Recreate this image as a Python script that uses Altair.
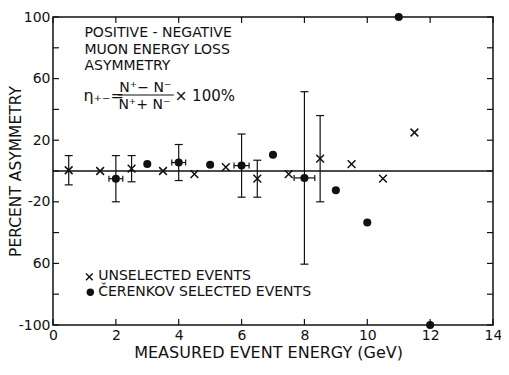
import altair as alt
import pandas as pd

# ---- data ----
# unselected events (crosses)
unsel_energy = [0.5, 1.5, 2.5, 3.5, 4.5, 5.5, 6.5, 7.5, 8.5, 9.5, 10.5, 11.5]
unsel_asym = [0.5, 0, 1.5, 0, -2, 2.5, -5, -2, 8, 4.5, -5, 25]
unsel_err = [9.5, 0, 8.5, 0, 0, 0, 12, 0, 28, 0, 0, 0]

# Cerenkov selected events (dots)
cer_energy = [2, 3, 4, 5, 6, 7, 8, 9, 10, 11, 12]
cer_asym = [-5, 4.5, 5.5, 4, 3.5, 10.5, -4.5, -12.5, -33.5, 100, -100]
cer_yerr = [15, 0, 11.7, 0, 20.5, 0, 56, 0, 0, 0, 0]
cer_xerr = [0.22, 0, 0.22, 0, 0.24, 0, 0.33, 0, 0, 0, 0]

x_tick_values = [0, 2, 4, 6, 8, 10, 12, 14]
y_tick_values = [-100, -80, -60, -40, -20, 0, 20, 40, 60, 80, 100]
y_tick_labels = ["-100", "", "60", "", "-20", "", "20", "", "60", "", "100"]

title_lines = ["POSITIVE - NEGATIVE", "MUON ENERGY LOSS", "ASYMMETRY"]
legend_labels = ["UNSELECTED EVENTS", "ČERENKOV SELECTED EVENTS"]

W, H = 440, 308
FONT = "DejaVu Sans"
INK = "#111111"


def px(xr):
    """reference-image x -> plot pixel x"""
    return (xr - 53) * W / 448


def py(yr):
    """reference-image y -> plot pixel y"""
    return (yr - 17) * H / 320


xs = alt.Scale(domain=[0, 14], nice=False, zero=False)
ys = alt.Scale(domain=[-100, 100], nice=False, zero=False)

label_expr = " : ".join(
    f"datum.value == {v} ? '{l}'" for v, l in zip(y_tick_values, y_tick_labels)
) + " : ''"

AXX = alt.Axis(
    values=x_tick_values, ticks=False, domain=False, grid=False,
    title="MEASURED EVENT ENERGY (GeV)", labelFont=FONT, labelFontSize=14,
    labelColor=INK, labelPadding=3, titleFont=FONT, titleFontSize=16,
    titleFontWeight="normal", titleColor=INK, titleBaseline="alphabetic",
    titleY=32, titleX=px(272), labelFlush=False)
AXY = alt.Axis(
    values=y_tick_values, ticks=False, domain=False, grid=False,
    labelExpr=label_expr, title="PERCENT ASYMMETRY", labelFont=FONT,
    labelFontSize=14, labelColor=INK, labelPadding=3, titleFont=FONT,
    titleFontSize=15.5, titleFontWeight="normal", titleColor=INK,
    titleBaseline="middle", titleX=-38, titleY=H / 2, titleAngle=270)


def X(f):
    return alt.X(f, type="quantitative", scale=xs, axis=AXX)


def Y(f):
    return alt.Y(f, type="quantitative", scale=ys, axis=AXY)


unsel = pd.DataFrame({"E": unsel_energy, "P": unsel_asym, "err": unsel_err})
unsel["lo"] = unsel["P"] - unsel["err"]
unsel["hi"] = unsel["P"] + unsel["err"]
unsel_eb = unsel[unsel["err"] > 0]

cer = pd.DataFrame({"E": cer_energy, "P": cer_asym, "yerr": cer_yerr, "xerr": cer_xerr})
cer["lo"] = cer["P"] - cer["yerr"]
cer["hi"] = cer["P"] + cer["yerr"]
cer["xlo"] = cer["E"] - cer["xerr"]
cer["xhi"] = cer["E"] + cer["xerr"]
cer_eb = cer[cer["yerr"] > 0]

CROSS = "M-1,-1L1,1M-1,1L1,-1"
cap_h = dict(orient="horizontal", size=8, thickness=1.2, color=INK, opacity=1)
cap_v = dict(orient="vertical", size=6, thickness=1.2, color=INK, opacity=1)

zero_line = alt.Chart(pd.DataFrame({"z": [0]})).mark_rule(
    strokeWidth=1.4, color=INK).encode(y=Y("z"))

u_bar = alt.Chart(unsel_eb).mark_rule(strokeWidth=1.2, color=INK).encode(
    x=X("E"), y=Y("lo"), y2="hi:Q")
u_cap_lo = alt.Chart(unsel_eb).mark_tick(**cap_h).encode(x=X("E"), y=Y("lo"))
u_cap_hi = alt.Chart(unsel_eb).mark_tick(**cap_h).encode(x=X("E"), y=Y("hi"))

c_bar = alt.Chart(cer_eb).mark_rule(strokeWidth=1.2, color=INK).encode(
    x=X("E"), y=Y("lo"), y2="hi:Q")
c_cap_lo = alt.Chart(cer_eb).mark_tick(**cap_h).encode(x=X("E"), y=Y("lo"))
c_cap_hi = alt.Chart(cer_eb).mark_tick(**cap_h).encode(x=X("E"), y=Y("hi"))
c_xbar = alt.Chart(cer_eb).mark_rule(strokeWidth=1.2, color=INK).encode(
    x=X("xlo"), x2="xhi:Q", y=Y("P"))
c_xcap_lo = alt.Chart(cer_eb).mark_tick(**cap_v).encode(x=X("xlo"), y=Y("P"))
c_xcap_hi = alt.Chart(cer_eb).mark_tick(**cap_v).encode(x=X("xhi"), y=Y("P"))

crosses = alt.Chart(unsel).mark_point(
    shape=CROSS, filled=False, size=60, strokeWidth=1.5, color=INK, opacity=1
).encode(x=X("E"), y=Y("P"))

dots = alt.Chart(cer).mark_point(
    shape="circle", filled=True, size=65, color=INK, opacity=1
).encode(x=X("E"), y=Y("P"))

# inward tick marks on all four sides
yt = pd.DataFrame({"v": y_tick_values})
xt = pd.DataFrame({"v": x_tick_values})
tick_kw = dict(size=6, thickness=1.2, color=INK, opacity=1)
left_ticks = alt.Chart(yt).mark_tick(orient="horizontal", **tick_kw).encode(
    y=Y("v"), x=alt.value(3))
right_ticks = alt.Chart(yt).mark_tick(orient="horizontal", **tick_kw).encode(
    y=Y("v"), x=alt.value(W - 3))
bottom_ticks = alt.Chart(xt).mark_tick(orient="vertical", **tick_kw).encode(
    x=X("v"), y=alt.value(H - 3))
top_ticks = alt.Chart(xt).mark_tick(orient="vertical", **tick_kw).encode(
    x=X("v"), y=alt.value(3))


def txt(s, x, y, size=15, align="left", baseline="alphabetic"):
    return alt.Chart(pd.DataFrame({"t": [s]})).mark_text(
        font=FONT, fontSize=size, color=INK, align=align, baseline=baseline
    ).encode(text="t:N", x=alt.value(x), y=alt.value(y))


one = pd.DataFrame({"a": [0]})
annot = [
    txt(title_lines[0], px(85), py(38), size=14),
    txt(title_lines[1], px(85), py(55), size=14),
    txt(title_lines[2], px(85), py(72), size=14),
    txt("η₊₋=", px(84), py(104), size=16),
    txt("N⁺− N⁻", px(147), py(95), size=14, align="center"),
    txt("N⁺+ N⁻", px(146), py(113), size=14, align="center"),
    txt("× 100%", px(177), py(104), size=15),
    txt(legend_labels[0], px(99), py(286), size=14, baseline="middle"),
    txt(legend_labels[1], px(99), py(303), size=14, baseline="middle"),
    alt.Chart(one).mark_point(shape=CROSS, filled=False, size=45, strokeWidth=1.4,
                              color=INK, opacity=1).encode(
        x=alt.value(px(90)), y=alt.value(py(287))),
    alt.Chart(one).mark_point(shape="circle", filled=True, size=55,
                              color=INK, opacity=1).encode(
        x=alt.value(px(91)), y=alt.value(py(303))),
    alt.Chart(one).mark_rule(strokeWidth=1.1, color=INK).encode(
        x=alt.value(px(119)), x2=alt.value(px(176)), y=alt.value(py(98))),
]

chart = alt.layer(
    zero_line, u_bar, u_cap_lo, u_cap_hi, c_bar, c_cap_lo, c_cap_hi,
    c_xbar, c_xcap_lo, c_xcap_hi, crosses, dots,
    left_ticks, right_ticks, bottom_ticks, top_ticks, *annot
).properties(
    width=W, height=H,
    autosize=alt.AutoSizeParams(type="none"),
    padding={"left": 45, "top": 9, "right": 8, "bottom": 37},
    background="white",
).configure_view(stroke=INK, strokeWidth=1.5)

chart.save("out.html", embed_options={"renderer": "svg", "actions": False})
